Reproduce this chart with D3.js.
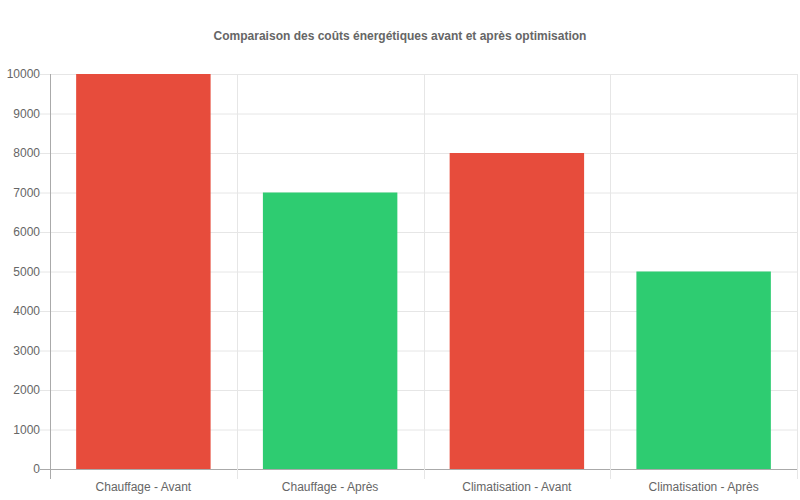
<!DOCTYPE html>
<html>
<head>
<meta charset="utf-8">
<script src="https://cdn.jsdelivr.net/npm/d3@7"></script>
<style>
  body { margin: 0; background: #fff; }
  text { font-family: "Liberation Sans", Arial, sans-serif; }
</style>
</head>
<body>
<svg id="chart"></svg>
<script>
const categories = ["Chauffage - Avant", "Chauffage - Après", "Climatisation - Avant", "Climatisation - Après"];
const costs = [10000, 7000, 8000, 5000];
const barColors = ["#e74c3c", "#2ecc71", "#e74c3c", "#2ecc71"];
const yTicks = [0, 1000, 2000, 3000, 4000, 5000, 6000, 7000, 8000, 9000, 10000];

const width = 800;
const height = 500;
const margin = { top: 74, right: 3, bottom: 31, left: 50 };

const svg = d3.select("#chart").attr("width", width).attr("height", height);

// titre
svg.append("text")
  .attr("x", width / 2)
  .attr("y", 40)
  .attr("text-anchor", "middle")
  .attr("font-size", 12)
  .attr("font-weight", "bold")
  .attr("fill", "#666")
  .text("Comparaison des coûts énergétiques avant et après optimisation");

const x = d3.scaleBand()
  .domain(categories)
  .range([margin.left, width - margin.right]);

const y = d3.scaleLinear()
  .domain([0, 10000])
  .range([height - margin.bottom, margin.top]);

// grille horizontale
svg.append("g")
  .selectAll("line")
  .data(yTicks)
  .enter()
  .append("line")
  .attr("x1", margin.left - 10)
  .attr("x2", width - margin.right)
  .attr("y1", (d) => y(d) + 0.5)
  .attr("y2", (d) => y(d) + 0.5)
  .attr("stroke", (d) => (d === 0 ? "#aaa" : "#e6e6e6"));

// grille verticale (limites des catégories)
const bounds = categories.map((c) => x(c)).concat([width - margin.right]);
svg.append("g")
  .selectAll("line")
  .data(bounds)
  .enter()
  .append("line")
  .attr("x1", (d) => Math.round(d) + 0.5)
  .attr("x2", (d) => Math.round(d) + 0.5)
  .attr("y1", margin.top)
  .attr("y2", height - margin.bottom + 10)
  .attr("stroke", (d, i) => (i === 0 ? "#aaa" : "#e6e6e6"));

// étiquettes Y
svg.append("g")
  .selectAll("text")
  .data(yTicks)
  .enter()
  .append("text")
  .attr("x", margin.left - 10)
  .attr("y", (d) => y(d))
  .attr("dy", "0.35em")
  .attr("text-anchor", "end")
  .attr("font-size", 12)
  .attr("fill", "#666")
  .text((d) => d);

// étiquettes X
svg.append("g")
  .selectAll("text")
  .data(categories)
  .enter()
  .append("text")
  .attr("x", (d) => x(d) + x.bandwidth() / 2)
  .attr("y", height - margin.bottom + 22)
  .attr("text-anchor", "middle")
  .attr("font-size", 12)
  .attr("fill", "#666")
  .text((d) => d);

// barres
const barW = x.bandwidth() * 0.72;
svg.append("g")
  .selectAll("rect")
  .data(costs)
  .enter()
  .append("rect")
  .attr("x", (d, i) => x(categories[i]) + (x.bandwidth() - barW) / 2)
  .attr("y", (d) => y(d))
  .attr("width", barW)
  .attr("height", (d) => y(0) - y(d))
  .attr("fill", (d, i) => barColors[i]);
</script>
</body>
</html>
